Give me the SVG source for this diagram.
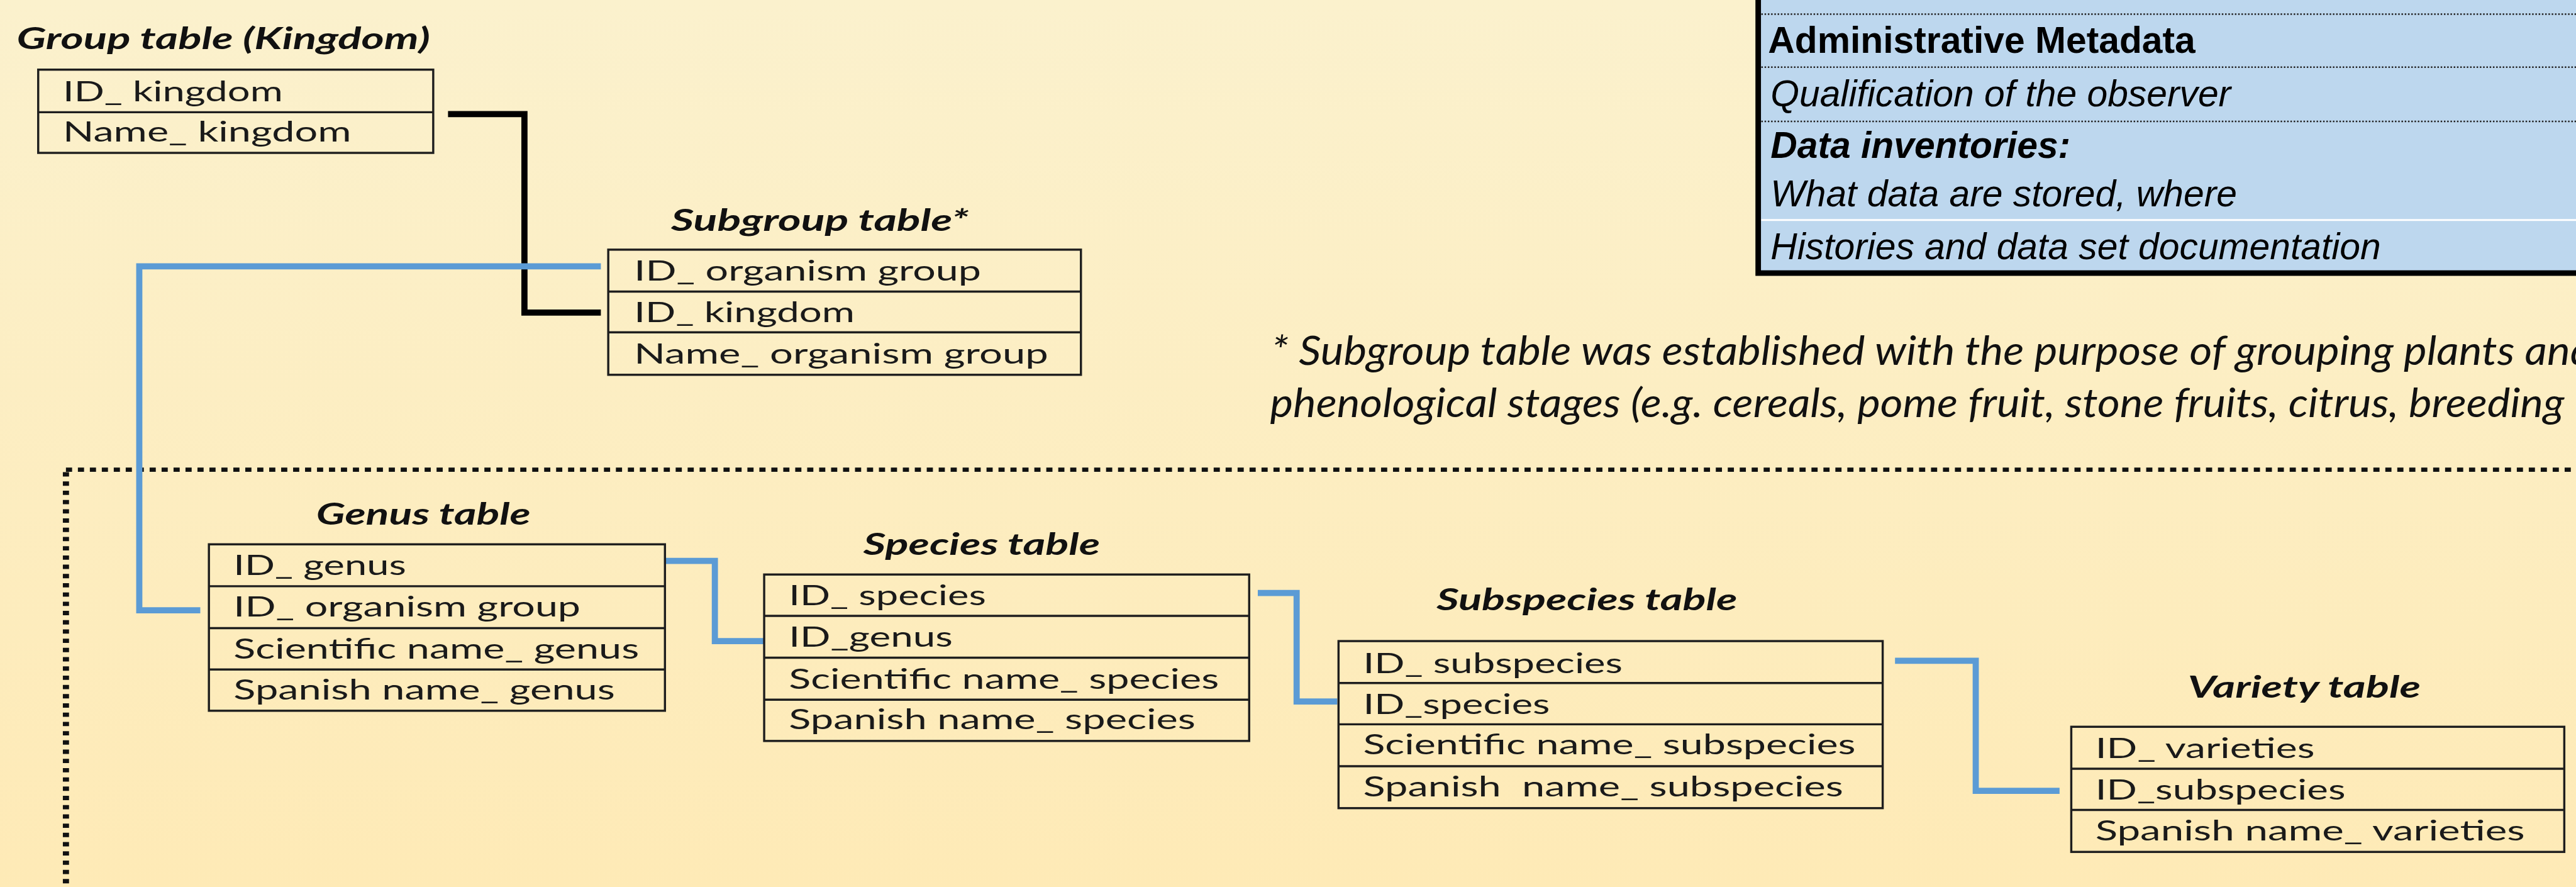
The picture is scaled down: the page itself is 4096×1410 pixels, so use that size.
<svg xmlns="http://www.w3.org/2000/svg" width="4096" height="1410" viewBox="0 0 4096 1410">
<defs>
<linearGradient id="bg" x1="0" y1="0" x2="0" y2="1">
<stop offset="0" stop-color="#FBF1CD"/>
<stop offset="1" stop-color="#FEEAB6"/>
</linearGradient>
<style>
.tbl{fill:none;stroke:#1e1e1e;stroke-width:3.5}
.row{font-family:Lato,"Open Sans",sans-serif;font-size:46px;fill:#1a1a1a}
.ttl{font-family:Lato,"Open Sans",sans-serif;font-size:48px;font-weight:bold;font-style:italic;fill:#111}
.note{font-family:Lato,"Open Sans",sans-serif;font-size:65px;font-style:italic;fill:#111}
.meta{font-family:"Liberation Sans",Arial,sans-serif;font-size:60px;fill:#000}
.blue{fill:none;stroke:#5B9BD5;stroke-width:10}
.black{fill:none;stroke:#000;stroke-width:10}
.sep{stroke:#222;stroke-width:2.5;stroke-dasharray:2.5 2.8}
</style>
</defs>
<rect x="0" y="0" width="4096" height="1410" fill="url(#bg)"/>
<g transform="scale(0.9799)">
<g id="frame">
<line x1="107" y1="762" x2="4200" y2="762" stroke="#111" stroke-width="7" stroke-dasharray="10 9.4"/>
<line x1="107" y1="766" x2="107" y2="1450" stroke="#111" stroke-width="10" stroke-dasharray="7 8"/>
</g>
<g id="metadata">
<rect x="2853" y="-20" width="1400" height="463" fill="#BDD7EE" stroke="#000" stroke-width="9"/>
<line class="sep" x1="2858" y1="23" x2="4190" y2="23"/>
<line class="sep" x1="2858" y1="109" x2="4190" y2="109"/>
<line class="sep" x1="2858" y1="197" x2="4190" y2="197"/>
<line x1="2858" y1="357" x2="4190" y2="357" stroke="#fff" stroke-width="3"/>
<text class="meta" x="2869" y="86" font-weight="bold">Administrative Metadata</text>
<text class="meta" x="2873" y="172" font-style="italic">Qualification of the observer</text>
<text class="meta" x="2873" y="256" font-style="italic" font-weight="bold">Data inventories:</text>
<text class="meta" x="2873" y="335" font-style="italic">What data are stored, where</text>
<text class="meta" x="2873" y="420" font-style="italic">Histories and data set documentation</text>
</g>
<g id="footnote">
<text class="note" x="2063" y="592" textLength="2145" lengthAdjust="spacingAndGlyphs">* Subgroup table was established with the purpose of grouping plants and</text>
<text class="note" x="2061" y="677" textLength="2100" lengthAdjust="spacingAndGlyphs">phenological stages (e.g. cereals, pome fruit, stone fruits, citrus, breeding</text>
</g>
<g id="connectors">
<path class="black" d="M727,185 H851 V507 H975"/>
<path class="blue" d="M975,432 H226 V990 H325"/>
<path class="blue" d="M1079,910 H1160 V1040 H1240"/>
<path class="blue" d="M2041,962 H2104 V1138 H2170"/>
<path class="blue" d="M3075,1072 H3206 V1283 H3342"/>
</g>
<g id="group-table">
<text class="ttl" x="27" y="80" textLength="671" lengthAdjust="spacingAndGlyphs">Group table (Kingdom)</text>
<rect class="tbl" x="62" y="113" width="641" height="135"/>
<line class="tbl" x1="62" y1="182" x2="703" y2="182"/>
<text class="row" x="102" y="164" textLength="357" lengthAdjust="spacingAndGlyphs">ID_ kingdom</text>
<text class="row" x="102" y="230" textLength="468" lengthAdjust="spacingAndGlyphs">Name_ kingdom</text>
</g>
<g id="subgroup-table">
<text class="ttl" x="1089" y="375" textLength="483" lengthAdjust="spacingAndGlyphs">Subgroup table*</text>
<rect class="tbl" x="987" y="405" width="767" height="203"/>
<line class="tbl" x1="987" y1="473" x2="1754" y2="473"/>
<line class="tbl" x1="987" y1="539" x2="1754" y2="539"/>
<text class="row" x="1029" y="455" textLength="563" lengthAdjust="spacingAndGlyphs">ID_ organism group</text>
<text class="row" x="1029" y="522" textLength="358" lengthAdjust="spacingAndGlyphs">ID_ kingdom</text>
<text class="row" x="1029" y="590" textLength="672" lengthAdjust="spacingAndGlyphs">Name_ organism group</text>
</g>
<g id="genus-table">
<text class="ttl" x="513" y="851" textLength="348" lengthAdjust="spacingAndGlyphs">Genus table</text>
<rect class="tbl" x="339" y="883" width="740" height="270"/>
<line class="tbl" x1="339" y1="951" x2="1079" y2="951"/>
<line class="tbl" x1="339" y1="1019" x2="1079" y2="1019"/>
<line class="tbl" x1="339" y1="1086" x2="1079" y2="1086"/>
<text class="row" x="379" y="933" textLength="280" lengthAdjust="spacingAndGlyphs">ID_ genus</text>
<text class="row" x="379" y="1000" textLength="563" lengthAdjust="spacingAndGlyphs">ID_ organism group</text>
<text class="row" x="379" y="1068" textLength="658" lengthAdjust="spacingAndGlyphs">Scientific name_ genus</text>
<text class="row" x="379" y="1135" textLength="619" lengthAdjust="spacingAndGlyphs">Spanish name_ genus</text>
</g>
<g id="species-table">
<text class="ttl" x="1401" y="900" textLength="384" lengthAdjust="spacingAndGlyphs">Species table</text>
<rect class="tbl" x="1240" y="932" width="787" height="270"/>
<line class="tbl" x1="1240" y1="999" x2="2027" y2="999"/>
<line class="tbl" x1="1240" y1="1067" x2="2027" y2="1067"/>
<line class="tbl" x1="1240" y1="1135" x2="2027" y2="1135"/>
<text class="row" x="1280" y="982" textLength="320" lengthAdjust="spacingAndGlyphs">ID_ species</text>
<text class="row" x="1280" y="1049" textLength="266" lengthAdjust="spacingAndGlyphs">ID_genus</text>
<text class="row" x="1280" y="1117" textLength="698" lengthAdjust="spacingAndGlyphs">Scientific name_ species</text>
<text class="row" x="1280" y="1183" textLength="660" lengthAdjust="spacingAndGlyphs">Spanish name_ species</text>
</g>
<g id="subspecies-table">
<text class="ttl" x="2331" y="990" textLength="488" lengthAdjust="spacingAndGlyphs">Subspecies table</text>
<rect class="tbl" x="2172" y="1040" width="883" height="271"/>
<line class="tbl" x1="2172" y1="1108" x2="3055" y2="1108"/>
<line class="tbl" x1="2172" y1="1175" x2="3055" y2="1175"/>
<line class="tbl" x1="2172" y1="1243" x2="3055" y2="1243"/>
<text class="row" x="2212" y="1092" textLength="421" lengthAdjust="spacingAndGlyphs">ID_ subspecies</text>
<text class="row" x="2212" y="1158" textLength="303" lengthAdjust="spacingAndGlyphs">ID_species</text>
<text class="row" x="2212" y="1224" textLength="799" lengthAdjust="spacingAndGlyphs">Scientific name_ subspecies</text>
<text class="row" x="2212" y="1292" textLength="779" lengthAdjust="spacingAndGlyphs" xml:space="preserve">Spanish  name_ subspecies</text>
</g>
<g id="variety-table">
<text class="ttl" x="3550" y="1132" textLength="378" lengthAdjust="spacingAndGlyphs">Variety table</text>
<rect class="tbl" x="3361" y="1179" width="800" height="203"/>
<line class="tbl" x1="3361" y1="1247" x2="4161" y2="1247"/>
<line class="tbl" x1="3361" y1="1314" x2="4161" y2="1314"/>
<text class="row" x="3400" y="1230" textLength="356" lengthAdjust="spacingAndGlyphs">ID_ varieties</text>
<text class="row" x="3400" y="1297" textLength="406" lengthAdjust="spacingAndGlyphs">ID_subspecies</text>
<text class="row" x="3400" y="1363" textLength="697" lengthAdjust="spacingAndGlyphs">Spanish name_ varieties</text>
</g>
</g>
</svg>
